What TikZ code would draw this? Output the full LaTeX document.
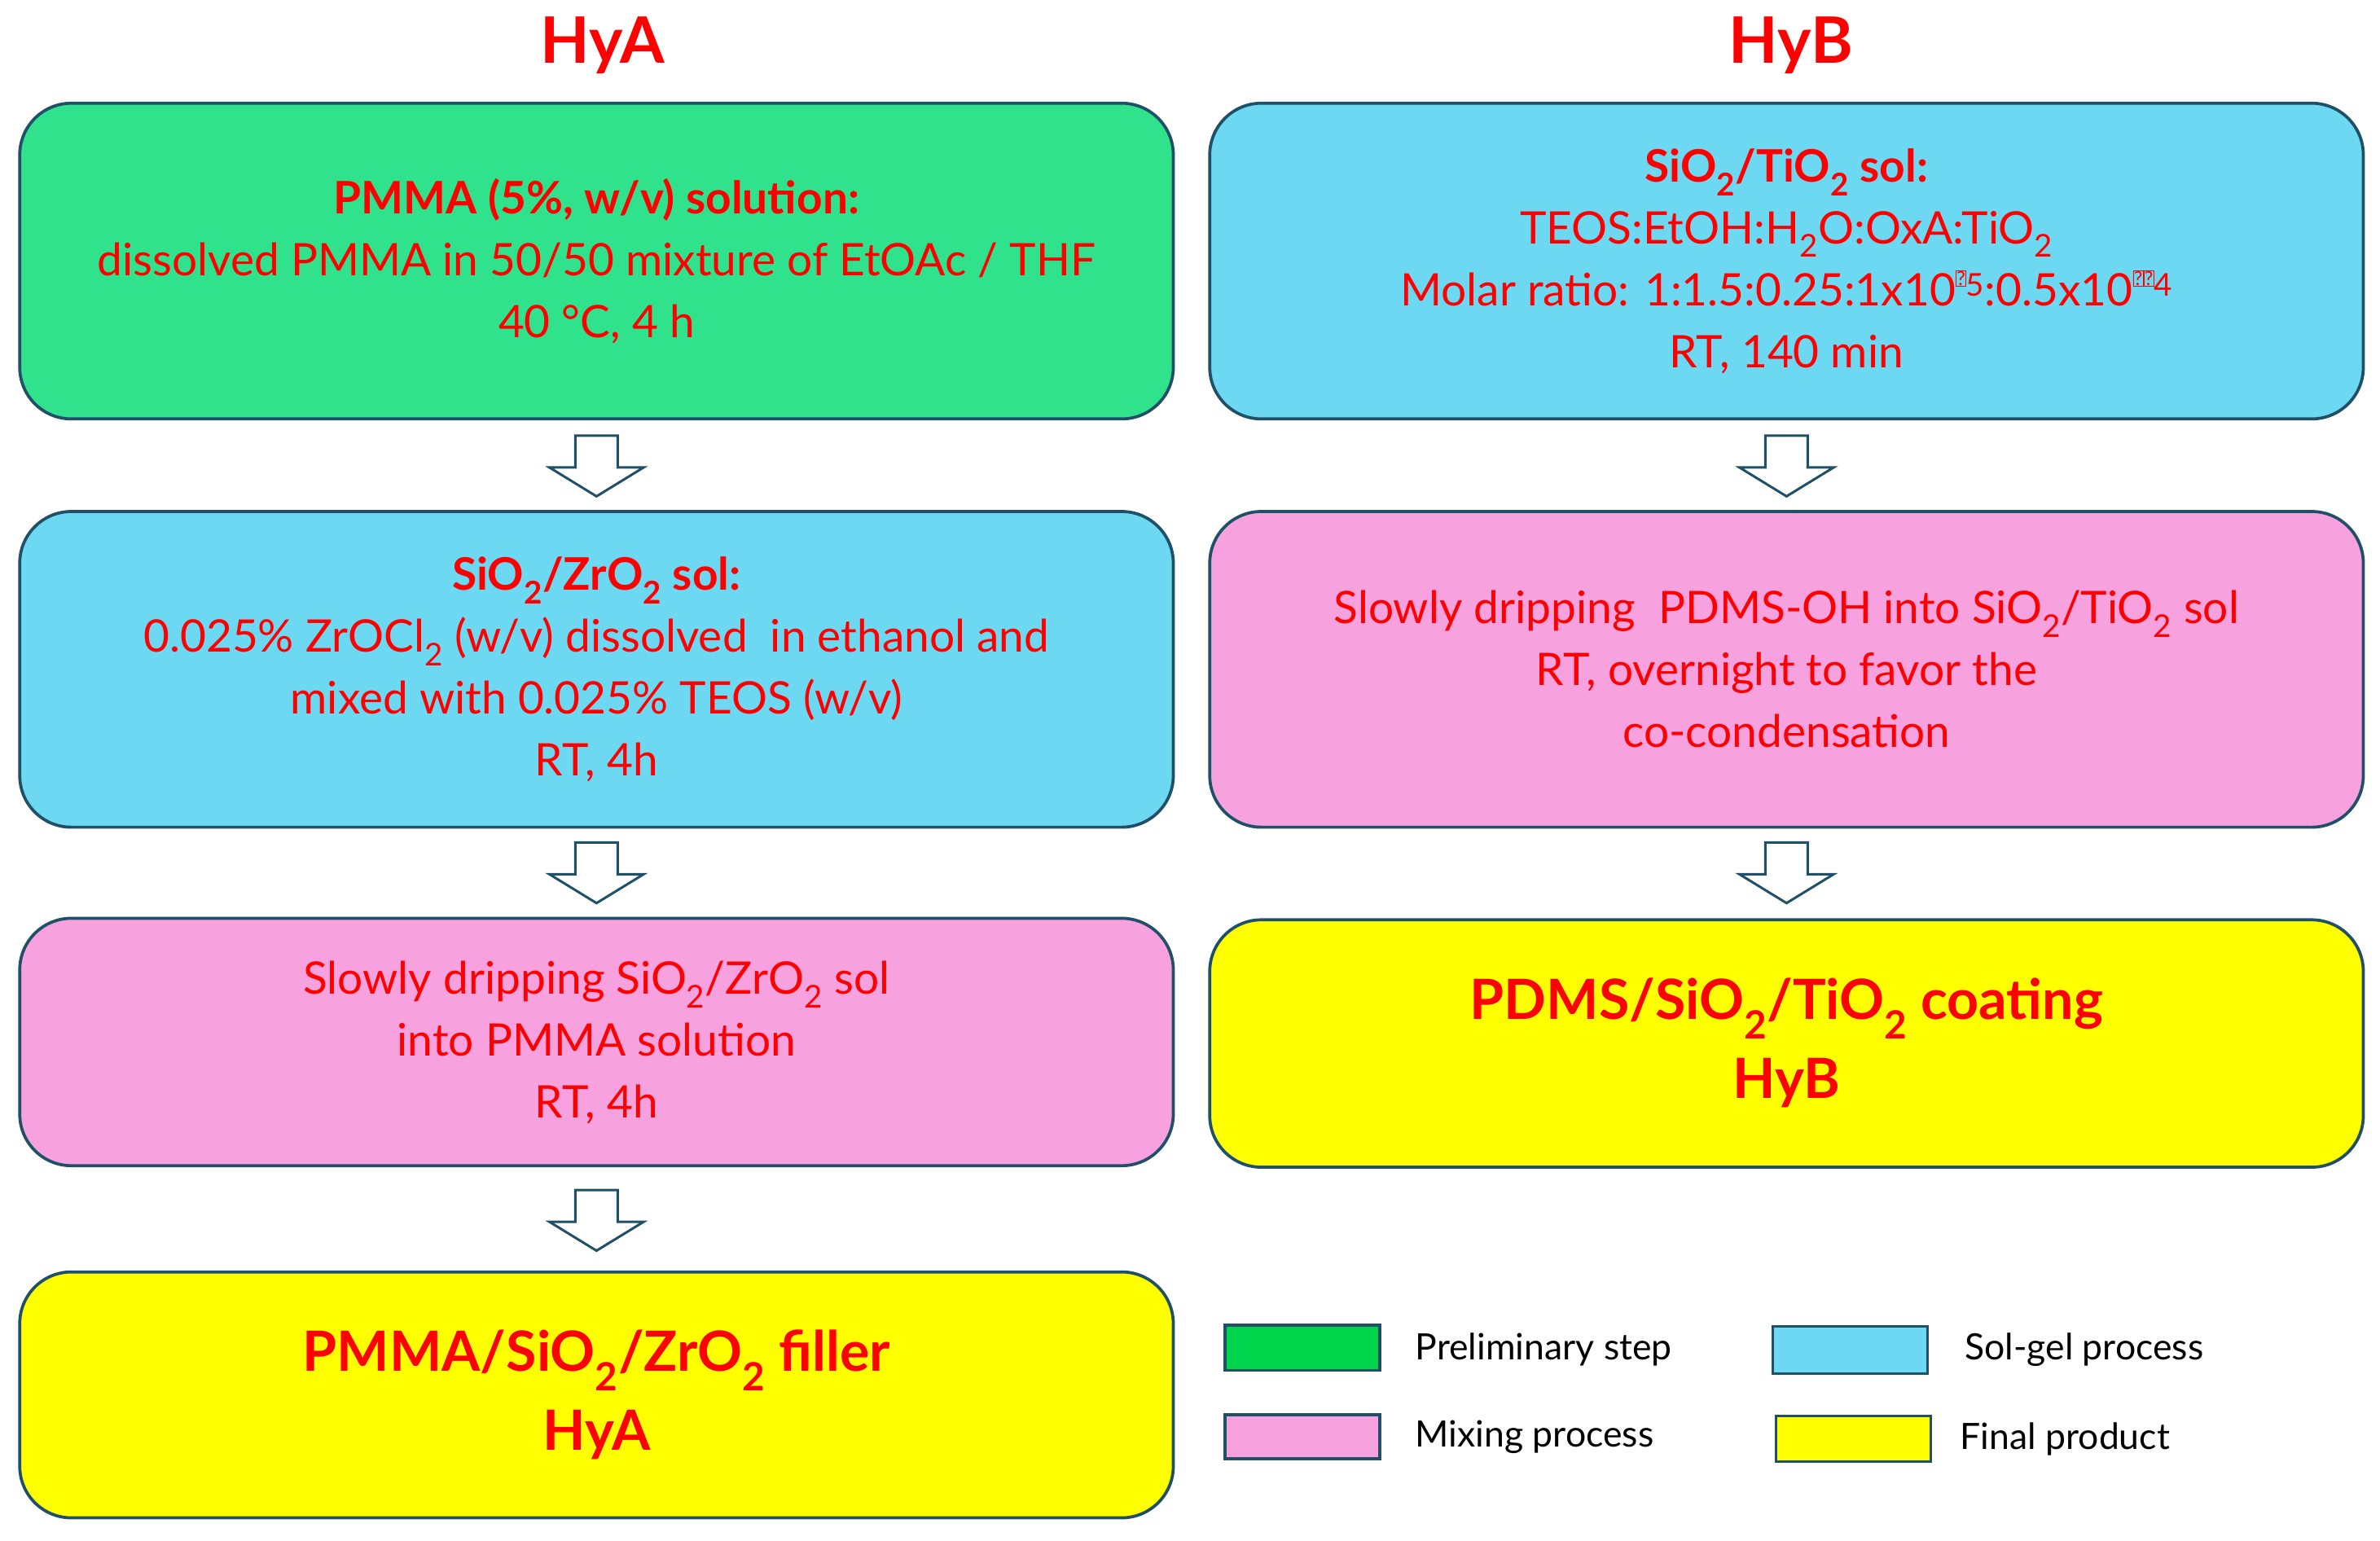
\documentclass[tikz,border=0pt]{standalone}
\usepackage{fontspec}
\setmainfont{Lato}
\definecolor{bord}{HTML}{1F5068}
\definecolor{cgreen}{HTML}{30E28C}
\definecolor{cblue}{HTML}{6CD8F2}
\definecolor{cpink}{HTML}{F7A1DF}
\definecolor{cyell}{HTML}{FFFF00}
\definecolor{lgreen}{HTML}{00D44A}
\definecolor{tred}{HTML}{FF0000}
\newcommand{\sbs}[1]{\textsubscript{#1}}
\newcommand{\missglyph}{\raisebox{0.9ex}{\setlength{\fboxsep}{0.5pt}\fbox{\fontsize{18}{18}\selectfont ?}}}
\begin{document}
\begin{tikzpicture}[x=0.5mm,y=-0.5mm,
  box/.style={draw=bord,line width=1mm,rounded corners=17mm},
  bigt/.style={text=tred,font=\fontsize{60}{60}\selectfont\bfseries},
  leg/.style={draw=bord,line width=0.9mm},
  legt/.style={anchor=west,font=\fontsize{34}{40}\selectfont},
  harrow/.style={draw=bord,line width=0.8mm,fill=white,line join=miter}]
\useasboundingbox (0,0) rectangle (1568,1015);
\newcommand{\hollowarrow}[3]{% x, ytop, ybottom
  \draw[harrow] (#1-14,#2) -- (#1+14,#2) -- (#1+14,#3-19) -- (#1+31,#3-19) -- (#1,#3) -- (#1-31,#3-19) -- (#1-14,#3-19) -- cycle;}
\node[bigt] (ta) at (397,30) {HyA};
\node[bigt] (tb) at (1180,30) {HyB};
% left column
\draw[box,fill=cgreen] (13,68) rectangle (773,276);
\node[text=tred,align=center,font=\fontsize{42}{58}\selectfont] (a1) at (393,172) {\textbf{PMMA (5\%, w/v) solution:}\\dissolved PMMA in 50/50 mixture of EtOAc / THF\\40 °C, 4 h};
\draw[box,fill=cblue] (13,337) rectangle (773,545);
\node[text=tred,align=center,font=\fontsize{42}{58}\selectfont] (a2) at (393,441) {\textbf{SiO\sbs{2}/ZrO\sbs{2} sol:}\\0.025\% ZrOCl\sbs{2} (w/v) dissolved\ \ in ethanol and\\mixed with 0.025\% TEOS (w/v)\\RT, 4h};
\draw[box,fill=cpink] (13,605) rectangle (773,768);
\node[text=tred,align=center,font=\fontsize{42}{58}\selectfont] (a3) at (393,687) {Slowly dripping SiO\sbs{2}/ZrO\sbs{2} sol\\into PMMA solution\\RT, 4h};
\draw[box,fill=cyell] (13,838) rectangle (773,1000);
\node[text=tred,align=center,font=\fontsize{52}{74}\selectfont\bfseries] (a4) at (393,919) {PMMA/SiO\sbs{2}/ZrO\sbs{2} filler\\HyA};
% right column
\draw[box,fill=cblue] (797,68) rectangle (1557,276);
\node[text=tred,align=center,font=\fontsize{42}{58}\selectfont] (b1) at (1177,172) {\textbf{SiO\sbs{2}/TiO\sbs{2} sol:}\\TEOS:EtOH:H\sbs{2}O:OxA:TiO\sbs{2}\\Molar ratio: 1:1.5:0.25:1x10\missglyph\textsuperscript{5}:0.5x10\missglyph\missglyph\textsuperscript{4}\\RT, 140 min};
\draw[box,fill=cpink] (797,337) rectangle (1557,545);
\node[text=tred,align=center,font=\fontsize{42}{58}\selectfont] (b2) at (1177,441) {Slowly dripping\ \ PDMS-OH into SiO\sbs{2}/TiO\sbs{2} sol\\RT, overnight to favor the\\co-condensation};
\draw[box,fill=cyell] (797,606) rectangle (1557,769);
\node[text=tred,align=center,font=\fontsize{52}{74}\selectfont\bfseries] (b3) at (1177,687) {PDMS/SiO\sbs{2}/TiO\sbs{2} coating\\HyB};
% arrows
\hollowarrow{393}{287}{327}
\hollowarrow{393}{555}{595}
\hollowarrow{393}{784}{824}
\hollowarrow{1177}{287}{327}
\hollowarrow{1177}{555}{595}
% legend
\draw[leg,fill=lgreen] (807,873) rectangle (909,903);
\node[legt] (l1) at (930,889) {Preliminary step};
\draw[leg,fill=cblue] (1168,874) rectangle (1270,905);
\node[legt] (l2) at (1292,889) {Sol-gel process};
\draw[leg,fill=cpink] (807,932) rectangle (909,961);
\node[legt] (l3) at (930,947) {Mixing process};
\draw[leg,fill=cyell] (1170,933) rectangle (1272,963);
\node[legt] (l4) at (1289,948) {Final product};
\end{tikzpicture}
\end{document}
